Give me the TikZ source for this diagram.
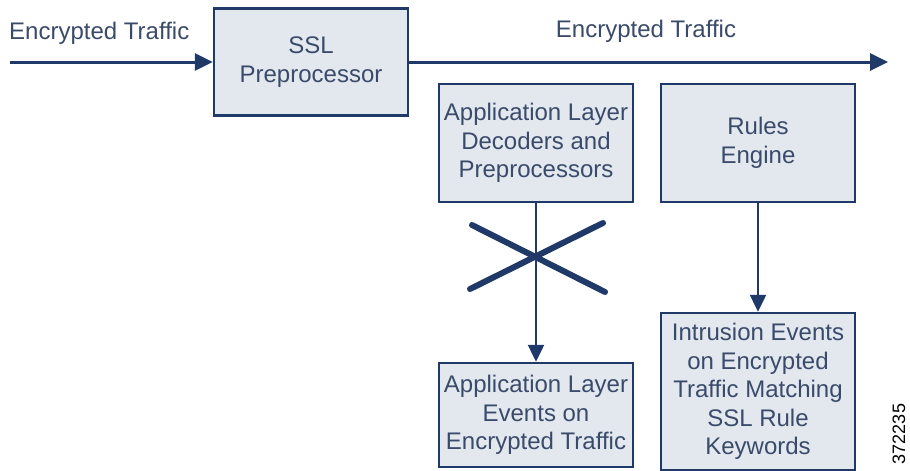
\documentclass[tikz,border=0pt]{standalone}
\usepackage{fontspec}
\setmainfont{Liberation Sans}
\usetikzlibrary{arrows.meta}
\definecolor{lc}{HTML}{1F3A68}
\definecolor{tc}{HTML}{3A4A6A}
\definecolor{fc}{HTML}{E2E8EE}
\begin{document}
\begin{tikzpicture}[x=1pt,y=-1pt,
  box/.style={draw=lc,line width=2.5pt,fill=fc,text=tc,align=center,inner sep=0pt,
    minimum width=194pt,font=\fontsize{24}{28.5}\selectfont},
  lbl/.style={text=tc,inner sep=0pt,font=\fontsize{24}{28.5}\selectfont},
  mainarr/.style={draw=lc,line width=3pt,-{Triangle[length=18pt,width=17pt]}},
  varr/.style={draw=lc,line width=2.5pt,-{Triangle[length=17pt,width=16pt]}},
  xline/.style={draw=lc,line width=6pt,line cap=round}]
\useasboundingbox (0,0) rectangle (910,471);
\node[box,minimum height=107pt] (ssl) at (311,62) {SSL\\Preprocessor};
\node[box,minimum height=118pt] (dec) at (536,143) {Application Layer\\Decoders and\\Preprocessors};
\node[box,minimum height=118pt] (rules) at (758,143) {Rules\\Engine};
\node[box,minimum height=104pt] (evl) at (536,415) {Application Layer\\Events on\\Encrypted Traffic};
\node[box,minimum height=157pt] (ir) at (758,391.5) {Intrusion Events\\on Encrypted\\Traffic Matching\\SSL Rule\\Keywords};
\coordinate (s) at (10,62);
\coordinate (e) at (888,62);
\draw[mainarr] (s) -- (ssl.west);
\draw[mainarr] (ssl.east) -- (e);
\draw[varr] (dec.south) -- (evl.north);
\draw[varr] (rules.south) -- (ir.north);
\coordinate (x1) at (472,225);
\coordinate (x2) at (605,292);
\coordinate (x3) at (470,289);
\coordinate (x4) at (603,223);
\draw[xline] (x1) -- (x2);
\draw[xline] (x3) -- (x4);
\node[lbl,anchor=west] (l1) at (9,33) {Encrypted Traffic};
\node[lbl] (l2) at (646,31) {Encrypted Traffic};
\node[rotate=90,inner sep=0pt,font=\fontsize{18}{18}\selectfont] (num) at (899,434) {372235};
\end{tikzpicture}
\end{document}
